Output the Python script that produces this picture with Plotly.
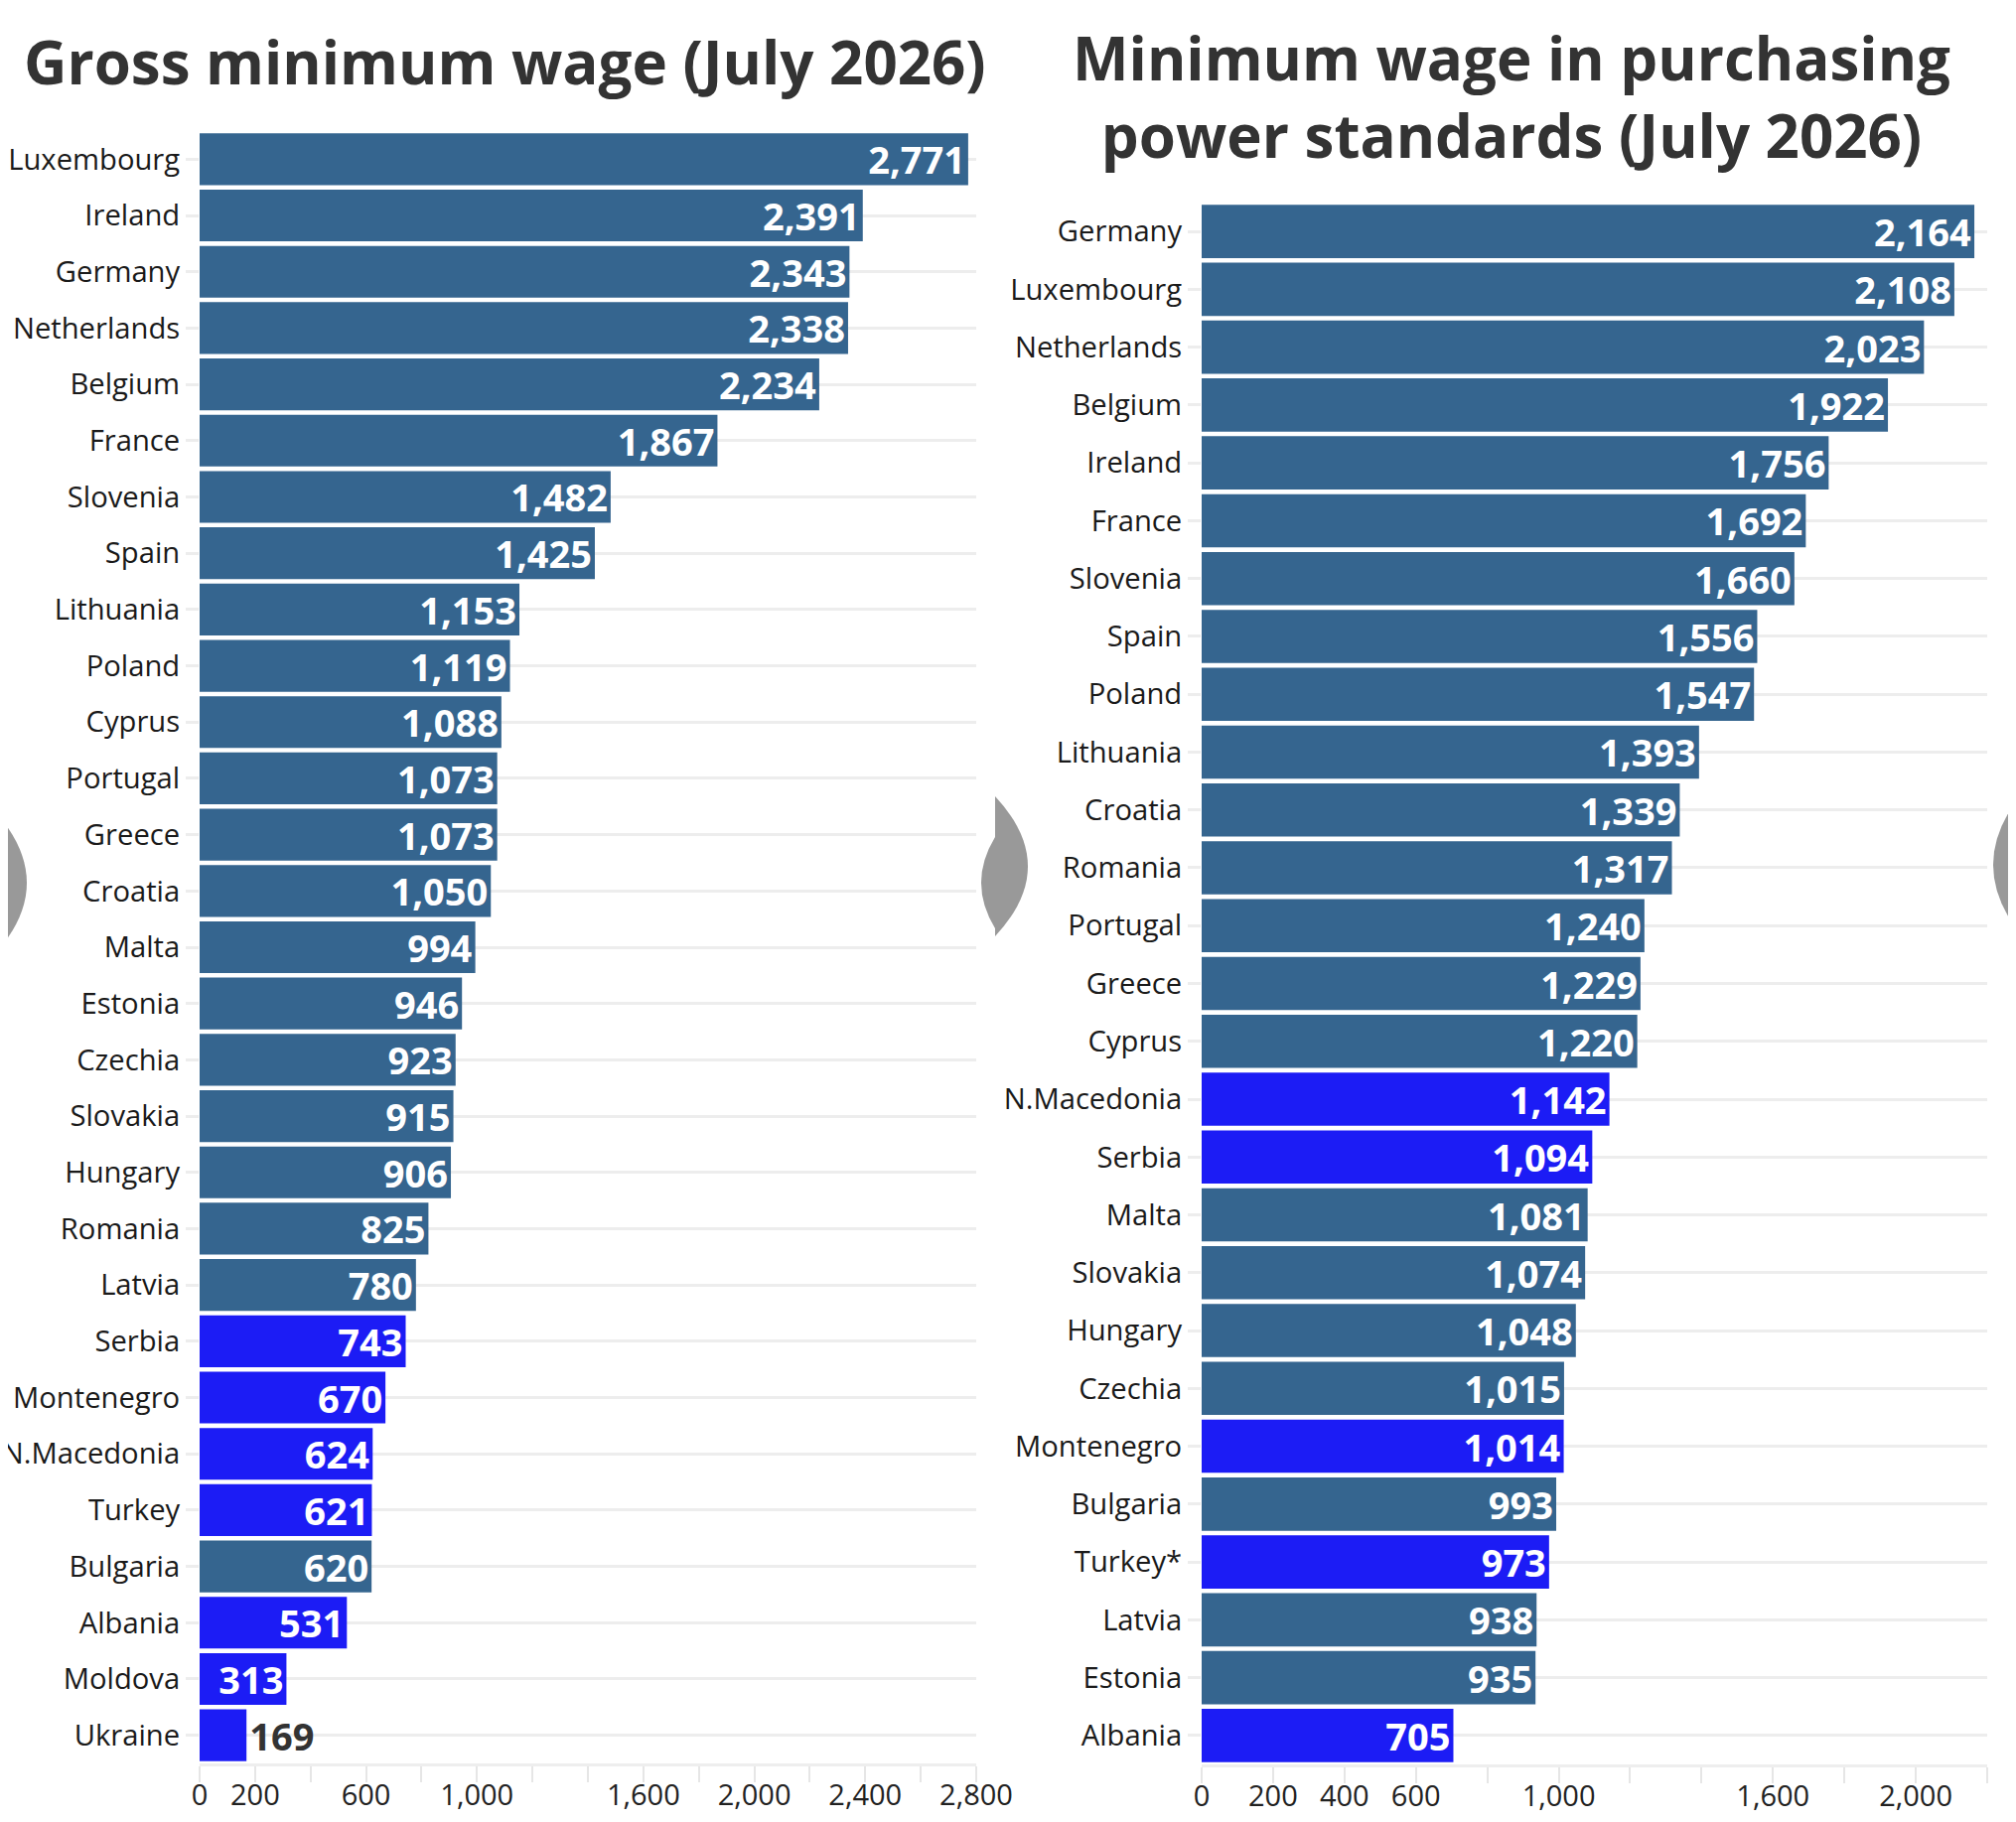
from plotly import graph_objects

PAGE_W, PAGE_H = 2030, 1835
BODY_MARGIN = 8
W, H = PAGE_W - 2 * BODY_MARGIN, PAGE_H - 2 * BODY_MARGIN

# left chart: gross minimum wage, EUR
gross_countries = ["Luxembourg", "Ireland", "Germany", "Netherlands", "Belgium", "France",
                   "Slovenia", "Spain", "Lithuania", "Poland", "Cyprus", "Portugal", "Greece",
                   "Croatia", "Malta", "Estonia", "Czechia", "Slovakia", "Hungary", "Romania",
                   "Latvia", "Serbia", "Montenegro", "N.Macedonia", "Turkey", "Bulgaria",
                   "Albania", "Moldova", "Ukraine"]
gross_values = [2771, 2391, 2343, 2338, 2234, 1867, 1482, 1425, 1153, 1119, 1088, 1073, 1073,
                1050, 994, 946, 923, 915, 906, 825, 780, 743, 670, 624, 621, 620, 531, 313, 169]
gross_non_eu = ["Serbia", "Montenegro", "N.Macedonia", "Turkey", "Albania", "Moldova", "Ukraine"]

# right chart: minimum wage in PPS
pps_countries = ["Germany", "Luxembourg", "Netherlands", "Belgium", "Ireland", "France",
                 "Slovenia", "Spain", "Poland", "Lithuania", "Croatia", "Romania", "Portugal",
                 "Greece", "Cyprus", "N.Macedonia", "Serbia", "Malta", "Slovakia", "Hungary",
                 "Czechia", "Montenegro", "Bulgaria", "Turkey*", "Latvia", "Estonia", "Albania"]
pps_values = [2164, 2108, 2023, 1922, 1756, 1692, 1660, 1556, 1547, 1393, 1339, 1317, 1240,
              1229, 1220, 1142, 1094, 1081, 1074, 1048, 1015, 1014, 993, 973, 938, 935, 705]
pps_non_eu = ["N.Macedonia", "Serbia", "Montenegro", "Turkey*", "Albania"]

gross_ticks = list(range(0, 3000, 200))
gross_ticktext = ["0", "200", "", "600", "", "1,000", "", "", "1,600", "", "2,000", "",
                  "2,400", "", "2,800"]
pps_ticks = list(range(0, 2400, 200))
pps_ticktext = ["0", "200", "400", "600", "", "1,000", "", "", "1,600", "", "2,000", ""]

EU_COLOR = "#35658f"
NON_EU_COLOR = "#1c1cf5"
FONT = "Open Sans"


def px_x(v):
    # page pixel -> paper coordinate
    return (v - BODY_MARGIN) / W


def px_y(v):
    return 1 - (v - BODY_MARGIN) / H


def bar_trace(countries, values, non_eu, xaxis, yaxis):
    colors = [NON_EU_COLOR if c in non_eu else EU_COLOR for c in countries]
    # tiny bars get their label outside
    positions = ["outside" if v < 250 else "inside" for v in values]
    return graph_objects.Bar(
        x=values, y=countries, orientation="h",
        marker=dict(color=colors, line=dict(width=0)),
        text=[f"{v:,}" for v in values],
        textposition=positions,
        insidetextanchor="end",
        insidetextfont=dict(family=FONT, size=38, color="white", weight="bold"),
        outsidetextfont=dict(family=FONT, size=38, color="#333333", weight="bold"),
        constraintext="none",
        cliponaxis=False,
        xaxis=xaxis, yaxis=yaxis,
        hoverinfo="x+y",
    )


fig = graph_objects.Figure()
fig.add_trace(bar_trace(gross_countries, gross_values, gross_non_eu, "x", "y"))
fig.add_trace(bar_trace(pps_countries, pps_values, pps_non_eu, "x2", "y2"))

xaxis_style = dict(showgrid=False, zeroline=False, showline=True, linecolor="#eeeeee",
                   linewidth=3, ticks="outside", ticklen=16, tickwidth=2,
                   tickcolor="#e6e6e6", tickfont=dict(family=FONT, size=29, color="#222222"),
                   ticklabelstandoff=-12, automargin=False, fixedrange=True)
yaxis_style = dict(showgrid=True, gridcolor="#ededed", gridwidth=3, zeroline=False,
                   ticks="outside", ticklen=13, tickwidth=3, tickcolor="#ededed",
                   tickfont=dict(family=FONT, size=29.2, color="#1a1a1a"),
                   autorange="reversed", automargin=False, fixedrange=True)

fig.update_layout(
    width=W, height=H,
    margin=dict(l=0, r=0, t=0, b=0, pad=0),
    paper_bgcolor="white", plot_bgcolor="white",
    showlegend=False,
    bargap=0.08,
    font=dict(family=FONT),
    xaxis=dict(domain=[px_x(201), px_x(983)], range=[0, 2800], tickvals=gross_ticks,
               ticktext=gross_ticktext, anchor="y", **xaxis_style),
    yaxis=dict(domain=[px_y(1776), px_y(132)], anchor="x", **yaxis_style),
    xaxis2=dict(domain=[px_x(1210), px_x(2001)], range=[0, 2200], tickvals=pps_ticks,
                ticktext=pps_ticktext, anchor="y2", **xaxis_style),
    yaxis2=dict(domain=[px_y(1777), px_y(204)], anchor="x2", **yaxis_style),
)

title_font = dict(family=FONT, size=60, color="#333333")
titles = [("<b>Gross minimum wage (July 2026)</b>", 508, 62),
          ("<b>Minimum wage in purchasing<br>power standards (July 2026)</b>", 1522, 97)]
for text, tx, ty in titles:
    fig.add_annotation(text=text, x=px_x(tx), y=px_y(ty), xref="paper", yref="paper",
                       showarrow=False, xanchor="center", yanchor="middle", align="center",
                       font=title_font)


# grey carousel arrows cut by the panel edges
def lens(x_edge, y_top, y_bot, x_peak):
    cx = 2 * x_peak - x_edge
    cy = (y_top + y_bot) / 2
    return (f"M {px_x(x_edge)},{px_y(y_top)} Q {px_x(cx)},{px_y(cy)} "
            f"{px_x(x_edge)},{px_y(y_bot)} Z")


for edge, top, bot, peak in [(0, 823, 955, 27), (1002, 843, 935, 988),
                             (1002, 802, 943, 1035), (2030, 807, 935, 2007)]:
    fig.add_shape(type="path", path=lens(edge, top, bot, peak), xref="paper", yref="paper",
                  fillcolor="#999999", line=dict(width=0), layer="above")

fig.write_html("out.html", config={"displayModeBar": False})
